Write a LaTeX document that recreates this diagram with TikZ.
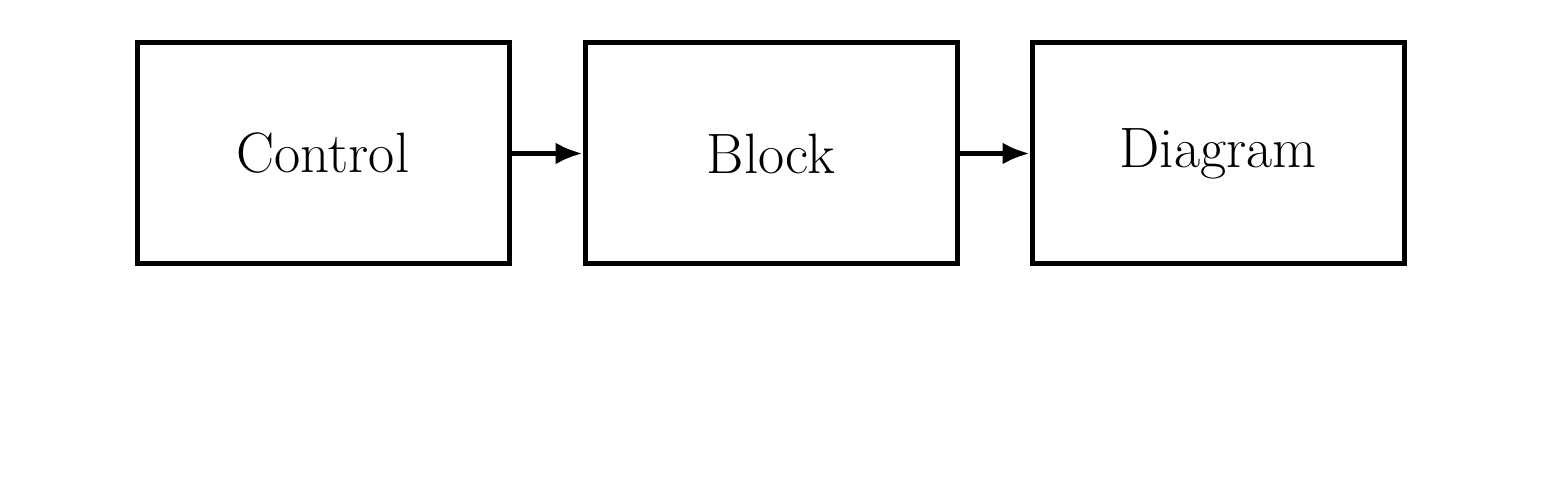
\documentclass[tikz,border=0pt]{standalone}
\usetikzlibrary{arrows.meta}
\begin{document}
\begin{tikzpicture}[
  blockbox/.style={draw, line width=0.05cm, minimum width=3.72cm, minimum height=2.21cm, inner sep=0pt, font=\fontsize{16.2}{19}\selectfont},
  conn/.style={line width=0.045cm, -{Latex[length=0.27cm,width=0.22cm]}}
]
\useasboundingbox (0,0) rectangle (15.56,4.97);
\node[blockbox] (a) at (3.23,3.435) {Control};
\node[blockbox] (b) at (7.71,3.435) {Block};
\node[blockbox] (c) at (12.18,3.435) {Diagram};
\draw[conn] (a) -- (b);
\draw[conn] (b) -- (c);
\end{tikzpicture}
\end{document}
